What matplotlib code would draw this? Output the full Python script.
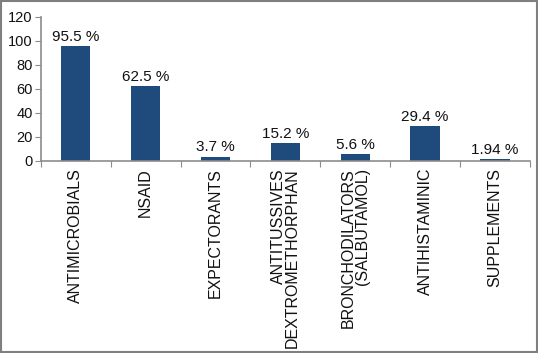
import numpy as np
import matplotlib.pyplot as plt
from matplotlib.patches import Rectangle

plt.rcParams['font.family'] = ['Liberation Sans', 'DejaVu Sans']

# drug classes and percentages
categories = ['ANTIMICROBIALS', 'NSAID', 'EXPECTORANTS',
              'ANTITUSSIVES\nDEXTROMETHORPHAN',
              'BRONCHODILATORS\n(SALBUTAMOL)',
              'ANTIHISTAMINIC', 'SUPPLEMENTS']
values = [95.5, 62.5, 3.7, 15.2, 5.6, 29.4, 1.94]
value_labels = ['95.5 %', '62.5 %', '3.7 %', '15.2 %', '5.6 %', '29.4 %', '1.94 %']
yticks = [0, 20, 40, 60, 80, 100, 120]

bar_color = '#1f4a7c'
axis_color = '#8c8c8c'

fig = plt.figure(figsize=(5.38, 3.53), dpi=100)
ax = fig.add_axes([0.076, 0.544, 0.909, 0.408])

x = np.arange(len(categories))
ax.bar(x, values, width=0.42, color=bar_color, zorder=2)

for xi, v, lab in zip(x, values, value_labels):
    ax.annotate(lab, (xi, v), xytext=(0, 1.5), textcoords='offset points',
                ha='center', va='bottom', fontsize=11, color='#111111')

ax.set_xlim(-0.5, len(categories) - 0.5)
ax.set_ylim(0, 120)
ax.set_yticks(yticks)
ax.tick_params(axis='y', labelsize=10.5, length=4, color=axis_color, labelcolor='#111111', pad=2)

# ticks at category boundaries, labels at centers
ax.set_xticks(np.arange(len(categories) + 1) - 0.5)
ax.set_xticklabels([])
ax.set_xticks(x, minor=True)
ax.set_xticklabels(categories, minor=True, rotation=90, ha='center', va='top',
                   multialignment='right', linespacing=0.95,
                   fontsize=11.5, color='#111111')
ax.tick_params(axis='x', which='major', length=4, color=axis_color)
ax.tick_params(axis='x', which='minor', length=0, pad=5)

for side in ['top', 'right']:
    ax.spines[side].set_visible(False)
for side in ['left', 'bottom']:
    ax.spines[side].set_color(axis_color)
    ax.spines[side].set_linewidth(1.2)

# outer frame of the picture
fig.patches.append(Rectangle((0.002, 0.003), 0.996, 0.994, transform=fig.transFigure,
                             fill=False, edgecolor='#7f7f7f', linewidth=1.5))

fig.savefig('out.png', dpi=100)
